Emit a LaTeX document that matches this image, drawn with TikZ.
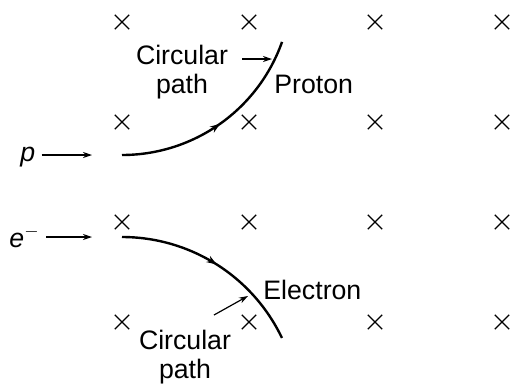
\documentclass[tikz,border=0pt]{standalone}
\usepackage{fontspec}
\setmainfont{Liberation Sans}
\usetikzlibrary{arrows.meta,shapes.misc,decorations.markings}

\begin{document}
\begin{tikzpicture}[
    x=0.5pt, y=-0.5pt,
    field/.style={cross out, draw, minimum size=6.6pt, inner sep=0pt, line width=0.6pt},
    label/.style={inner sep=0pt, align=center, font=\fontsize{13.35pt}{14.5pt}\selectfont},
    arrow/.style={-{Stealth[length=4.5pt, width=3pt]}, line width=0.6pt},
    orbit/.style={line width=1.2pt, postaction={decorate}, decoration={markings,
        mark=at position 0.5 with {\arrow{Stealth[length=5pt, width=3.6pt]}}}}
]
\useasboundingbox (0,0) rectangle (511,388);
% magnetic field into the page
\node[field] (b11) at (122,22) {};
\node[field] (b12) at (249,22) {};
\node[field] (b13) at (375,22) {};
\node[field] (b14) at (502,22) {};
\node[field] (b21) at (122,122) {};
\node[field] (b22) at (249,122) {};
\node[field] (b23) at (375,122) {};
\node[field] (b24) at (502,122) {};
\node[field] (b31) at (122,222) {};
\node[field] (b32) at (249,222) {};
\node[field] (b33) at (375,222) {};
\node[field] (b34) at (502,222) {};
\node[field] (b41) at (122,322) {};
\node[field] (b42) at (249,322) {};
\node[field] (b43) at (375,322) {};
\node[field] (b44) at (502,322) {};
% proton
\coordinate (pstart) at (122,155);
\coordinate (pin) at (92,155);
\node[label, anchor=base west, inner sep=3pt] (p) at (14,161) {\textit{p}};
\draw[arrow] (p.east |- pin) -- (pin);
\draw[orbit] (pstart) arc (90:19.5:169.8) coordinate (pend);
\node[label] (pcirc) at (182,72) {Circular\\path};
\coordinate (pcto) at (272,59);
\draw[arrow] ([xshift=7pt]pcirc.east |- pcto) -- (pcto);
\node[label, anchor=base west] (proton) at (274,93) {Proton};
% electron
\coordinate (estart) at (122,237);
\coordinate (ein) at (92,237);
\node[label, anchor=base west, inner sep=3pt] (e) at (3,247) {\textit{e}$^-$};
\draw[arrow] (e.east |- ein) -- (ein);
\draw[orbit] (estart) arc (-90:-25.5:177.2) coordinate (eend);
\node[label] (ecirc) at (185,357) {Circular\\path};
\coordinate (ecfrom) at (214,315);
\coordinate (ecto) at (248,296);
\draw[arrow] (ecfrom) -- (ecto);
\node[label, anchor=base west] (electron) at (263,299) {Electron};
\end{tikzpicture}
\end{document}
